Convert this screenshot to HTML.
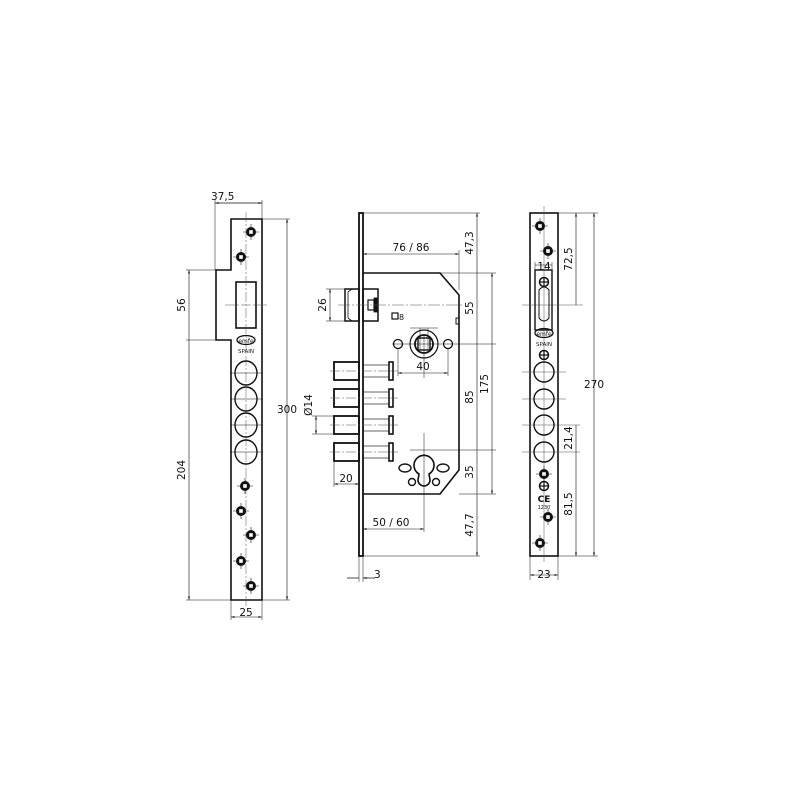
<!DOCTYPE html>
<html><head><meta charset="utf-8"><style>
html,body{margin:0;padding:0;background:#fff;width:800px;height:800px;overflow:hidden}
svg text{font-family:"DejaVu Sans","Liberation Sans",sans-serif;font-size:10.5px;fill:#111}
</style></head><body>
<svg width="800" height="800" viewBox="0 0 800 800" xmlns="http://www.w3.org/2000/svg">
<defs>
<marker id="a" viewBox="0 0 10 10" refX="10" refY="5" markerWidth="6" markerHeight="6" orient="auto-start-reverse"><path d="M0,2 L10,5 L0,8z" fill="#222"/></marker>
<g id="sc"><circle r="5" fill="#111"/><rect x="-1.8" y="-1.8" width="3.6" height="3.6" fill="#fff"/><path d="M-8,0H-5M5,0H8M0,-8V-5M0,5V8" stroke="#111" stroke-width="0.6"/></g>
<g id="cx"><circle r="4.5" fill="none" stroke="#111" stroke-width="1.5"/><path d="M-4.5,0H4.5M0,-4.5V4.5" stroke="#111" stroke-width="1.2"/></g>
<g id="bolt"><rect x="334" y="-9" width="25" height="18" fill="none" stroke="#111" stroke-width="1.8"/><path d="M363,-6H389M363,6H389" stroke="#333" stroke-width="0.8"/><rect x="389" y="-9" width="4" height="18" fill="none" stroke="#111" stroke-width="1.6"/><path d="M330,0H398" stroke="#555" stroke-width="0.5" stroke-dasharray="10,2,2,2"/></g>
</defs>
<g fill="none" stroke="#111">
<!-- LEFT PLATE -->
<path d="M231,219H262V600H231V340H216V270H231Z" stroke-width="1.6"/>
<rect x="236" y="282" width="20" height="46" stroke-width="1.6"/>
<path d="M246,212V608M225,305H268" stroke="#555" stroke-width="0.5" stroke-dasharray="10,2,2,2"/>
<ellipse cx="246" cy="373" rx="11" ry="12" stroke-width="1.4"/>
<ellipse cx="246" cy="399" rx="11" ry="12" stroke-width="1.4"/>
<ellipse cx="246" cy="425" rx="11" ry="12" stroke-width="1.4"/>
<ellipse cx="246" cy="452" rx="11" ry="12" stroke-width="1.4"/>
<path d="M230,373H263M230,399H263M230,425H263M230,452H263" stroke-width="0.5"/>
<ellipse cx="246" cy="340" rx="9" ry="4.5" stroke-width="1.3"/>
<!-- dims left -->
<path d="M215,200V270M262,200V219M215,203H262" stroke-width="0.5"/>
<path d="M215,203H262" stroke-width="0.6" marker-start="url(#a)" marker-end="url(#a)"/>
<path d="M262,219H290M262,600H290" stroke-width="0.5"/>
<path d="M287,219V600" stroke-width="0.6" marker-start="url(#a)" marker-end="url(#a)"/>
<path d="M186,270H216M186,340H231M186,600H231" stroke-width="0.5"/>
<path d="M189,270V340M189,340V600" stroke-width="0.6" marker-start="url(#a)" marker-end="url(#a)"/>
<path d="M231,600V620M262,600V620" stroke-width="0.5"/>
<path d="M231,617H262" stroke-width="0.6" marker-start="url(#a)" marker-end="url(#a)"/>

<!-- MIDDLE -->
<rect x="359" y="213" width="4" height="343" stroke-width="1.8"/>
<path d="M363,273H440L459,295V470L440,494H363" stroke-width="1.6"/>
<path d="M459,318h-3v6h3" stroke-width="1"/>
<rect x="345" y="289" width="14" height="32" stroke-width="1.5"/>
<path d="M348,292v26M348,292l4,-3M348,318l4,3" stroke-width="0.8"/>
<rect x="363" y="289" width="15" height="32" stroke-width="1.5"/>
<rect x="368" y="300" width="6" height="10" stroke-width="1.2"/>
<rect x="374" y="298" width="3" height="14" fill="#111" stroke-width="0.8"/>
<path d="M338,305H462" stroke="#555" stroke-width="0.5" stroke-dasharray="12,2,2,2"/>
<rect x="392" y="313" width="6" height="6" stroke-width="1.2"/>
<circle cx="424" cy="344" r="14" stroke-width="1.2"/>
<circle cx="424" cy="344" r="9" stroke-width="1.8"/>
<rect x="418" y="338" width="12" height="12" stroke-width="1.4"/>
<path d="M420,328V350M428,328V350M410,328H438" stroke-width="0.5"/>
<circle cx="398" cy="344" r="4.5" stroke-width="1.3"/>
<circle cx="448" cy="344" r="4.5" stroke-width="1.3"/>
<path d="M398,348V376M448,348V376M392,344H496M424,335V378" stroke-width="0.5"/>
<path d="M398,373H448" stroke-width="0.6" marker-start="url(#a)" marker-end="url(#a)"/>
<use href="#bolt" transform="translate(0,371)"/>
<use href="#bolt" transform="translate(0,398)"/>
<use href="#bolt" transform="translate(0,425)"/>
<use href="#bolt" transform="translate(0,452)"/>
<!-- keyhole -->
<path d="M419,474 A10,10 0 1 1 429,474 L430,480 A6,6 0 0 1 418,480 Z" stroke-width="1.6"/>
<circle cx="412" cy="482" r="3.5" stroke-width="1.4"/>
<circle cx="436" cy="482" r="3.5" stroke-width="1.4"/>
<ellipse cx="405" cy="468" rx="6" ry="4" stroke-width="1.4"/>
<ellipse cx="443" cy="468" rx="6" ry="4" stroke-width="1.4"/>
<path d="M424,433V532M410,450H496" stroke-width="0.5"/>
<!-- middle dims -->
<path d="M363,213H480M459,250V290M363,250V273" stroke-width="0.5"/>
<path d="M363,254H459" stroke-width="0.6" marker-start="url(#a)" marker-end="url(#a)"/>
<path d="M440,273H496M459,494H496M363,556H480" stroke-width="0.5"/>
<path d="M477,213V273M477,273V344M477,344V450M477,450V494M477,494V556" stroke-width="0.6" marker-start="url(#a)" marker-end="url(#a)"/>
<path d="M492,273V494" stroke-width="0.6" marker-start="url(#a)" marker-end="url(#a)"/>
<path d="M326,289H345M326,321H345" stroke-width="0.5"/>
<path d="M330,289V321" stroke-width="0.6" marker-start="url(#a)" marker-end="url(#a)"/>
<path d="M312,416H334M312,434H334" stroke-width="0.5"/>
<path d="M316,416V434" stroke-width="0.6" marker-start="url(#a)" marker-end="url(#a)"/>
<path d="M334,461V487" stroke-width="0.5"/>
<path d="M334,484H359" stroke-width="0.6" marker-start="url(#a)" marker-end="url(#a)"/>
<path d="M363,529H424" stroke-width="0.6" marker-start="url(#a)" marker-end="url(#a)"/>
<path d="M359,556V582M363,556V582M347,578H359M363,578H375" stroke-width="0.5"/>
<path d="M347,578H359M375,578H363" stroke-width="0.6" marker-end="url(#a)"/>

<!-- RIGHT PLATE -->
<rect x="530" y="213" width="28" height="343" stroke-width="1.6"/>
<path d="M544,206V562M522,305H583M522,372H566M522,399H566M522,425H580M522,452H580" stroke="#555" stroke-width="0.5"/>
<rect x="535" y="270" width="17" height="60" stroke-width="1.4"/>
<path d="M539,290Q544,284 549,290V318Q544,324 539,318Z" stroke-width="1"/>
<path d="M535,270V262M552,270V262M535,265H552" stroke-width="0.5"/>
<circle cx="544" cy="372" r="10" stroke-width="1.4"/>
<circle cx="544" cy="399" r="10" stroke-width="1.4"/>
<circle cx="544" cy="425" r="10" stroke-width="1.4"/>
<circle cx="544" cy="452" r="10" stroke-width="1.4"/>
<ellipse cx="544" cy="333" rx="9" ry="4.5" stroke-width="1.3"/>
<path d="M558,213H598M558,556H598" stroke-width="0.5"/>
<path d="M576,213V305M576,425V452M576,452V556" stroke-width="0.6" marker-start="url(#a)" marker-end="url(#a)"/>
<path d="M594,213V556" stroke-width="0.6" marker-start="url(#a)" marker-end="url(#a)"/>
<path d="M530,556V580M558,556V580" stroke-width="0.5"/>
<path d="M530,575H558" stroke-width="0.6" marker-start="url(#a)" marker-end="url(#a)"/>
</g>
<!-- screws -->
<use href="#sc" x="251" y="232"/><use href="#sc" x="241" y="257"/>
<use href="#sc" x="245" y="486"/><use href="#sc" x="241" y="511"/>
<use href="#sc" x="251" y="535"/><use href="#sc" x="241" y="561"/><use href="#sc" x="251" y="586"/>
<use href="#sc" x="540" y="226"/><use href="#sc" x="548" y="251"/>
<use href="#sc" x="548" y="517"/><use href="#sc" x="540" y="543"/>
<use href="#sc" x="544" y="474"/>
<use href="#cx" x="544" y="282"/><use href="#cx" x="544" y="355"/><use href="#cx" x="544" y="486"/>
<!-- text -->
<text x="246" y="343" text-anchor="middle" font-size="6" style="font-size:6px">emfe</text>
<text x="246" y="353" text-anchor="middle" style="font-size:5.5px">SPAIN</text>
<text x="544" y="336" text-anchor="middle" style="font-size:6px">emfe</text>
<text x="544" y="346" text-anchor="middle" style="font-size:5.5px">SPAIN</text>
<text x="544" y="502" text-anchor="middle" style="font-size:9px;font-weight:bold">CE</text>
<text x="544" y="509" text-anchor="middle" style="font-size:5px">1230</text>
<text x="211" y="200">37,5</text>
<text x="246" y="616" text-anchor="middle">25</text>
<text x="277" y="413">300</text>
<text transform="translate(188,305) rotate(-90)" text-anchor="middle" dy="-3">56</text>
<text transform="translate(188,470) rotate(-90)" text-anchor="middle" dy="-3">204</text>
<text x="411" y="251" text-anchor="middle">76 / 86</text>
<text x="423" y="370" text-anchor="middle">40</text>
<text x="399" y="320" style="font-size:8px">8</text>
<text x="346" y="482" text-anchor="middle">20</text>
<text x="391" y="526" text-anchor="middle">50 / 60</text>
<text x="374" y="578">3</text>
<text transform="translate(329,305) rotate(-90)" text-anchor="middle" dy="-3">26</text>
<text transform="translate(315,405) rotate(-90)" text-anchor="middle" dy="-3">Ø14</text>
<text transform="translate(476,243) rotate(-90)" text-anchor="middle" dy="-3">47,3</text>
<text transform="translate(476,308) rotate(-90)" text-anchor="middle" dy="-3">55</text>
<text transform="translate(476,397) rotate(-90)" text-anchor="middle" dy="-3">85</text>
<text transform="translate(476,472) rotate(-90)" text-anchor="middle" dy="-3">35</text>
<text transform="translate(476,525) rotate(-90)" text-anchor="middle" dy="-3">47,7</text>
<text transform="translate(491,384) rotate(-90)" text-anchor="middle" dy="-3">175</text>
<text x="544" y="270" text-anchor="middle">14</text>
<text transform="translate(575,259) rotate(-90)" text-anchor="middle" dy="-3">72,5</text>
<text transform="translate(575,438) rotate(-90)" text-anchor="middle" dy="-3">21,4</text>
<text transform="translate(575,504) rotate(-90)" text-anchor="middle" dy="-3">81,5</text>
<text x="584" y="388">270</text>
<text x="544" y="578" text-anchor="middle">23</text>
</svg>
</body></html>
